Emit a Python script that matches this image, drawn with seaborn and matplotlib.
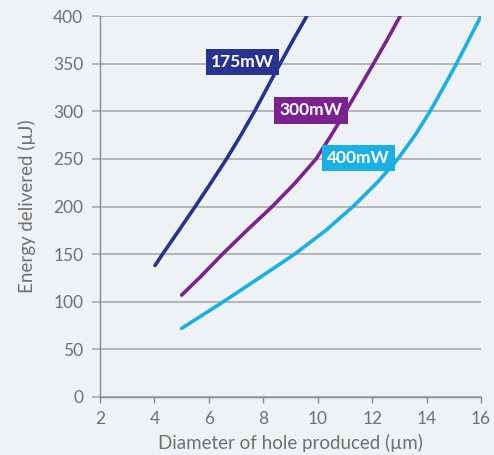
import numpy as np
import pandas as pd
import matplotlib
matplotlib.use("Agg")
import matplotlib.pyplot as plt
import seaborn as sns

# Data
x_175 = [4.02, 4.3, 4.9, 5.5, 6.08, 6.65, 7.18, 7.68, 8.15, 8.62, 9.1, 9.6]
y_175 = [138, 150, 175, 200, 225, 250, 275, 300, 325, 350, 375, 400]

x_300 = [5.0, 5.65, 6.5, 7.4, 8.33, 9.18, 9.94, 10.5, 11.03, 11.54, 12.05, 12.55, 13.03]
y_300 = [107, 125, 150, 175, 200, 225, 250, 275, 300, 325, 350, 375, 400]

x_400 = [5.0, 6.53, 7.85, 9.15, 10.3, 11.3, 12.18, 12.95, 13.58, 14.13, 14.62, 15.1, 15.55, 16.0]
y_400 = [72, 100, 125, 150, 175, 200, 225, 250, 275, 300, 325, 350, 375, 400]

series_names = ["175mW", "300mW", "400mW"]
series_colors = ["#26338f", "#7a2390", "#1bb0e4"]
label_pos = [(7.24, 352), (9.75, 301), (11.51, 251)]

x_ticks = [2, 4, 6, 8, 10, 12, 14, 16]
y_ticks = [0, 50, 100, 150, 200, 250, 300, 350, 400]

df = pd.concat([
    pd.DataFrame({"Diameter": x_175, "Energy": y_175, "Power": "175mW"}),
    pd.DataFrame({"Diameter": x_300, "Energy": y_300, "Power": "300mW"}),
    pd.DataFrame({"Diameter": x_400, "Energy": y_400, "Power": "400mW"}),
])

sns.set_theme(style="white")
plt.rcParams["font.family"] = ["Lato", "DejaVu Sans"]

bg = "#eef2f5"
txt = "#707070"
fig = plt.figure(figsize=(4.94, 4.55), dpi=100, facecolor=bg)
ax = fig.add_axes([0.2024, 0.1275, 0.7713, 0.8373], facecolor=bg)

sns.lineplot(data=df, x="Diameter", y="Energy", hue="Power",
             palette=dict(zip(series_names, series_colors)),
             linewidth=2.6, sort=False, legend=False, ax=ax, estimator=None)
for line in ax.get_lines():
    line.set_solid_joinstyle("round")
    line.set_solid_capstyle("round")

for name, col, (lx, ly) in zip(series_names, series_colors, label_pos):
    ax.text(lx, ly, name, color="white", fontsize=12.5, fontweight="bold",
            ha="center", va="center", zorder=5,
            bbox=dict(boxstyle="square,pad=0.3", fc=col, ec="none"))

ax.set_xlim(2, 16)
ax.set_ylim(0, 400)
ax.set_xticks(x_ticks)
ax.set_yticks(y_ticks)
ax.yaxis.grid(True, color="#ababab", linewidth=1.2, zorder=0)
ax.set_axisbelow(True)
for s in ["top", "right"]:
    ax.spines[s].set_visible(False)
for s in ["left", "bottom"]:
    ax.spines[s].set_color("#8a8a8a")
    ax.spines[s].set_linewidth(1.0)

ax.tick_params(axis="y", left=True, length=6, width=1.2, color="#ababab",
               labelsize=12.5, labelcolor=txt, pad=6)
ax.tick_params(axis="x", bottom=True, length=4, width=1.0, color="#8a8a8a",
               labelsize=12.5, labelcolor=txt, pad=6)

ax.set_xlabel("Diameter of hole produced (µm)", fontsize=13.5, color=txt, labelpad=5)
ax.set_ylabel("Energy delivered (µJ)", fontsize=13.5, color=txt, labelpad=12)

fig.savefig("out.png", dpi=100, facecolor=bg)
